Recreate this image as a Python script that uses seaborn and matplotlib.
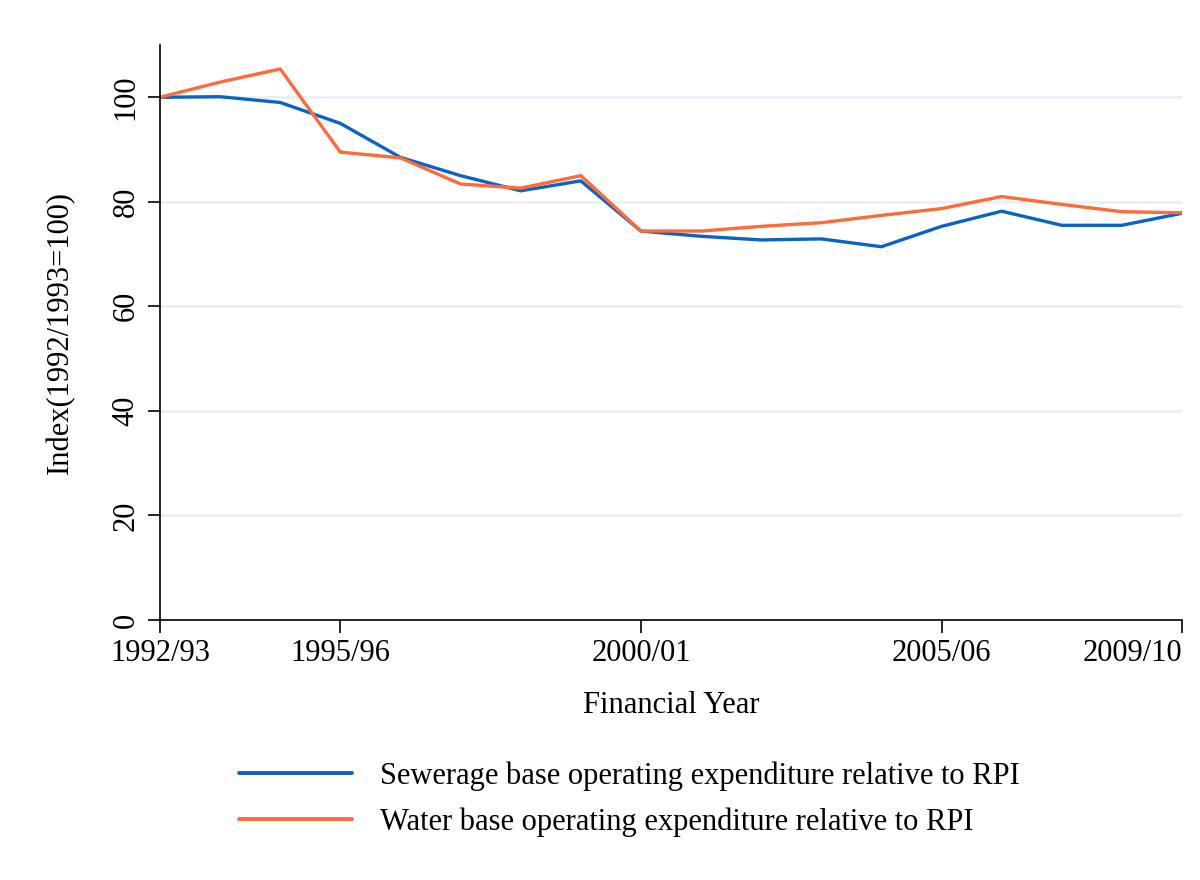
import numpy as np
import pandas as pd
import matplotlib
matplotlib.use("Agg")
import matplotlib.pyplot as plt
import seaborn as sns

years = ["1992/93", "1993/94", "1994/95", "1995/96", "1996/97", "1997/98", "1998/99",
         "1999/00", "2000/01", "2001/02", "2002/03", "2003/04", "2004/05", "2005/06",
         "2006/07", "2007/08", "2008/09", "2009/10"]
sewerage = [100.0, 100.1, 99.0, 95.0, 88.5, 85.0, 82.1, 84.0, 74.4, 73.4, 72.7, 72.9,
            71.4, 75.3, 78.2, 75.5, 75.5, 77.8]
water = [100.0, 102.9, 105.4, 89.5, 88.4, 83.4, 82.6, 85.0, 74.4, 74.4, 75.3, 76.0,
         77.4, 78.7, 81.0, 79.5, 78.1, 77.9]
tick_labels = ["1992/93", "1995/96", "2000/01", "2005/06", "2009/10"]
series_names = ["Sewerage base operating expenditure relative to RPI",
                "Water base operating expenditure relative to RPI"]

idx = np.arange(len(years))
df = pd.DataFrame({
    "x": np.concatenate([idx, idx]),
    "value": sewerage + water,
    "series": [series_names[0]] * len(years) + [series_names[1]] * len(years),
})

sns.set_theme(style="white")
plt.rcParams["font.family"] = ["Liberation Serif", "DejaVu Serif"]
plt.rcParams["text.color"] = "black"
plt.rcParams["axes.labelcolor"] = "black"
plt.rcParams["xtick.color"] = "black"
plt.rcParams["ytick.color"] = "black"
FS = 22

fig = plt.figure(figsize=(12, 8.8), dpi=100)
ax = fig.add_axes([0.1333, 0.2955, 0.985 - 0.1333, 0.9489 - 0.2955])

sns.lineplot(data=df, x="x", y="value", hue="series",
             palette=["#0a64c8", "#ff6a3a"], linewidth=2.4, ax=ax, legend=True)

ax.set_xlim(0, len(years) - 1)
ax.set_ylim(0, 110)
tick_pos = [years.index(t) for t in tick_labels]
ax.set_xticks(tick_pos)
ax.set_xticklabels(tick_labels, fontsize=FS)
ax.set_yticks([0, 20, 40, 60, 80, 100])
ax.set_yticklabels(["0", "20", "40", "60", "80", "100"], fontsize=FS, rotation=90, va="center")

# keep the last x tick label inside the figure
ax.get_xticklabels()[-1].set_horizontalalignment("right")

for v in [20, 40, 60, 80, 100]:
    ax.axhline(v, color="#eaf0f2", linewidth=2, zorder=0)

for s in ["top", "right"]:
    ax.spines[s].set_visible(False)
for s in ["left", "bottom"]:
    ax.spines[s].set_color("black")
    ax.spines[s].set_linewidth(1.2)

ax.tick_params(axis="both", which="major", direction="out", length=9, width=1.2,
               color="black", bottom=True, left=True, pad=5)

ax.set_xlabel("Financial Year", fontsize=FS, labelpad=16)
ax.set_ylabel("Index(1992/1993=100)", fontsize=FS, labelpad=26)

handles, labels = ax.get_legend_handles_labels()
ax.get_legend().remove()
leg = fig.legend(handles, labels, loc="center", bbox_to_anchor=(0.5246, 0.092),
                 frameon=False, fontsize=FS, handlelength=3.7, handletextpad=0.9,
                 labelspacing=0.55)
for h in leg.get_lines():
    h.set_linewidth(2.8)

fig.savefig("out.png", dpi=100)
